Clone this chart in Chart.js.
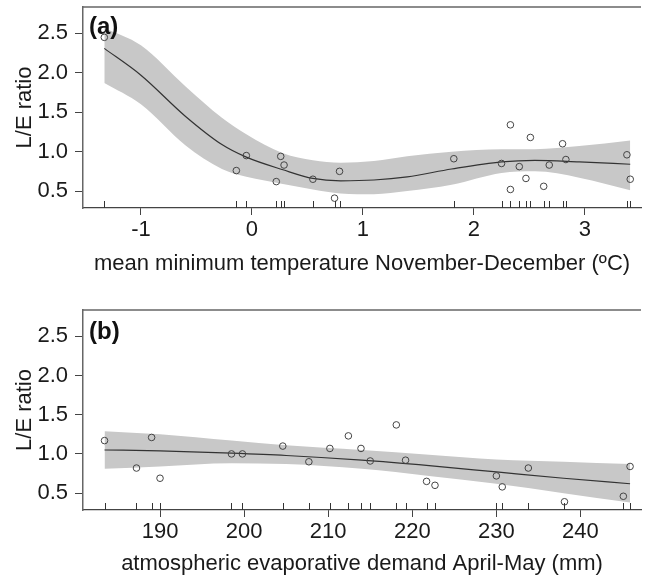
<!DOCTYPE html>
<html>
<head>
<meta charset="UTF-8">
<title>L/E ratio</title>
<script src="https://cdn.jsdelivr.net/npm/chart.js@4.4.0/dist/chart.umd.min.js"></script>
<style>
    body { margin: 0; background: #fff; }
    #wrap { position: relative; width: 646px; height: 583px; }
    .panel { position: absolute; left: 0; }
</style>
</head>
<body>
<div id="wrap">
    <div class="panel" style="top:0"><canvas id="chartA" width="646" height="290"></canvas></div>
    <div class="panel" style="top:290px"><canvas id="chartB" width="646" height="293"></canvas></div>
</div>
<script>
    // (a) mean minimum temperature November-December
    var tminX = [-1.33, -0.14, -0.05, 0.22, 0.26, 0.29, 0.55, 0.745, 0.79, 1.82, 2.25, 2.33, 2.33, 2.41, 2.47, 2.51, 2.63, 2.68, 2.80, 2.83, 3.38, 3.41];
    var tminY = [2.45, 0.76, 0.95, 0.62, 0.94, 0.83, 0.65, 0.41, 0.75, 0.91, 0.85, 0.52, 1.34, 0.81, 0.66, 1.18, 0.56, 0.83, 1.10, 0.90, 0.96, 0.65];
    var tminFitX = [-1.33, -1.0, -0.6, -0.27, -0.05, 0.28, 0.55, 0.8, 1.1, 1.4, 1.8, 2.25, 2.55, 2.95, 3.41];
    var tminFit = [2.31, 1.97, 1.45, 1.09, 0.93, 0.77, 0.66, 0.63, 0.64, 0.68, 0.78, 0.87, 0.89, 0.87, 0.84];
    var tminHi = [2.57, 2.35, 1.83, 1.43, 1.22, 0.98, 0.89, 0.86, 0.88, 0.94, 1.00, 1.03, 1.03, 1.07, 1.14];
    var tminLo = [1.87, 1.60, 1.08, 0.78, 0.68, 0.59, 0.52, 0.47, 0.46, 0.50, 0.58, 0.73, 0.75, 0.67, 0.51];
    var tminTicks = [-1, 0, 1, 2, 3];

    // (b) atmospheric evaporative demand April-May
    var aedX = [183.4, 187.2, 189.0, 190.0, 198.5, 199.8, 204.6, 207.7, 210.2, 212.4, 213.9, 215.0, 218.1, 219.2, 221.7, 222.7, 230.0, 230.7, 233.8, 238.1, 245.1, 245.9];
    var aedY = [1.17, 0.82, 1.21, 0.69, 1.00, 1.00, 1.10, 0.90, 1.07, 1.23, 1.07, 0.91, 1.37, 0.92, 0.65, 0.60, 0.72, 0.58, 0.82, 0.39, 0.46, 0.84];
    var aedFitX = [183.4, 190, 198.5, 205, 214, 222, 230, 238, 245.9];
    var aedFit = [1.05, 1.04, 1.01, 0.98, 0.92, 0.85, 0.77, 0.69, 0.62];
    var aedHi = [1.29, 1.25, 1.17, 1.11, 1.05, 0.99, 0.93, 0.90, 0.87];
    var aedLo = [0.81, 0.84, 0.88, 0.87, 0.81, 0.72, 0.62, 0.50, 0.38];
    var aedTicks = [190, 200, 210, 220, 230, 240];

    var ratioTicks = [0.5, 1.0, 1.5, 2.0, 2.5];

    var FONT = "'Liberation Sans', Arial, sans-serif";

    function xy(xs, ys) {
        var out = [];
        for (var i = 0; i < xs.length; i++) out.push({ x: xs[i], y: ys[i] });
        return out;
    }

    // rug ticks along the x axis + top frame line + panel letter
    var decorPlugin = {
        id: 'decor',
        afterDatasetsDraw: function (chart, args, opts) {
            var ctx = chart.ctx, area = chart.chartArea, xs = chart.scales.x;
            ctx.save();
            ctx.strokeStyle = '#333';
            ctx.lineWidth = 1;
            opts.rug.forEach(function (v) {
                var px = Math.round(xs.getPixelForValue(v)) + 0.5;
                ctx.beginPath();
                ctx.moveTo(px, area.bottom);
                ctx.lineTo(px, area.bottom - 7);
                ctx.stroke();
            });
            ctx.strokeStyle = '#666';
            ctx.lineWidth = 1.5;
            ctx.beginPath();
            ctx.moveTo(area.left, area.top);
            ctx.lineTo(area.right, area.top);
            ctx.stroke();
            ctx.fillStyle = '#111';
            ctx.font = 'bold 24px ' + FONT;
            ctx.textBaseline = 'middle';
            ctx.fillText(opts.letter, area.left + 6, area.top + opts.letterDy);
            ctx.restore();
        }
    };

    function buildPanel(id, px, py, fx, fit, hi, lo, xTicks, xMin, xMax, xTitle, cfg) {
        var ctx = document.getElementById(id).getContext('2d');
        return new Chart(ctx, {
            type: 'scatter',
            data: {
                datasets: [{
                    data: xy(px, py),
                    pointStyle: 'circle',
                    pointRadius: 3.3,
                    pointBorderWidth: 1,
                    borderColor: '#444',
                    backgroundColor: 'rgba(0,0,0,0)',
                    order: 0
                }, {
                    data: xy(fx, fit),
                    showLine: true,
                    borderColor: '#333',
                    borderWidth: 1.2,
                    pointRadius: 0,
                    cubicInterpolationMode: 'monotone',
                    order: 1
                }, {
                    data: xy(fx, hi),
                    showLine: true,
                    borderWidth: 0,
                    borderColor: 'rgba(0,0,0,0)',
                    backgroundColor: '#c8c8c8',
                    pointRadius: 0,
                    cubicInterpolationMode: 'monotone',
                    fill: '+1',
                    order: 2
                }, {
                    data: xy(fx, lo),
                    showLine: true,
                    borderWidth: 0,
                    borderColor: 'rgba(0,0,0,0)',
                    pointRadius: 0,
                    cubicInterpolationMode: 'monotone',
                    order: 3
                }]
            },
            options: {
                responsive: false,
                animation: false,
                layout: { padding: { left: 0, right: 0, top: cfg.top, bottom: 0 } },
                plugins: {
                    legend: { display: false },
                    tooltip: { enabled: false },
                    decor: { rug: px, letter: cfg.letter, letterDy: cfg.letterDy }
                },
                scales: {
                    x: {
                        type: 'linear',
                        min: xMin,
                        max: xMax,
                        afterBuildTicks: function (s) { s.ticks = xTicks.map(function (v) { return { value: v }; }); },
                        afterFit: function (s) {
                            s.height = cfg.xHeight;
                            s.paddingLeft = 0; s.paddingRight = 0;
                        },
                        ticks: {
                            autoSkip: false,
                            maxRotation: 0,
                            padding: 2,
                            color: '#1a1a1a',
                            font: { family: FONT, size: 22 }
                        },
                        grid: {
                            display: true,
                            drawOnChartArea: false,
                            drawTicks: true,
                            tickLength: 7,
                            tickColor: '#444',
                            tickWidth: 1
                        },
                        border: { display: true, color: '#444', width: 1.2 },
                        title: {
                            display: true,
                            text: xTitle,
                            color: '#1a1a1a',
                            font: { family: FONT, size: 22 },
                            padding: { top: 0, bottom: cfg.titlePad }
                        }
                    },
                    y: {
                        type: 'linear',
                        min: 0.285,
                        max: 2.835,
                        afterBuildTicks: function (s) { s.ticks = ratioTicks.map(function (v) { return { value: v }; }); },
                        afterFit: function (s) {
                            s.width = 83;
                            s.paddingTop = 0; s.paddingBottom = 0;
                        },
                        ticks: {
                            padding: 7,
                            color: '#1a1a1a',
                            font: { family: FONT, size: 22 },
                            callback: function (v) { return Number(v).toFixed(1); }
                        },
                        grid: {
                            display: true,
                            drawOnChartArea: false,
                            drawTicks: true,
                            tickLength: 8,
                            tickColor: '#444',
                            tickWidth: 1
                        },
                        border: { display: true, color: '#666', width: 1.5 },
                        title: {
                            display: true,
                            text: 'L/E ratio',
                            color: '#1a1a1a',
                            font: { family: FONT, size: 22 },
                            padding: { top: 12, bottom: 0 }
                        }
                    }
                }
            },
            plugins: [decorPlugin]
        });
    }

    buildPanel('chartA', tminX, tminY, tminFitX, tminFit, tminHi, tminLo, tminTicks, -1.522, 3.507,
        'mean minimum temperature November-December (ºC)',
        { top: 7, xHeight: 82, titlePad: 13, letter: '(a)', letterDy: 20 });

    buildPanel('chartB', aedX, aedY, aedFitX, aedFit, aedHi, aedLo, aedTicks, 180.84, 247.2,
        'atmospheric evaporative demand April-May (mm)',
        { top: 20, xHeight: 73, titlePad: 6, letter: '(b)', letterDy: 22 });
</script>
</body>
</html>
